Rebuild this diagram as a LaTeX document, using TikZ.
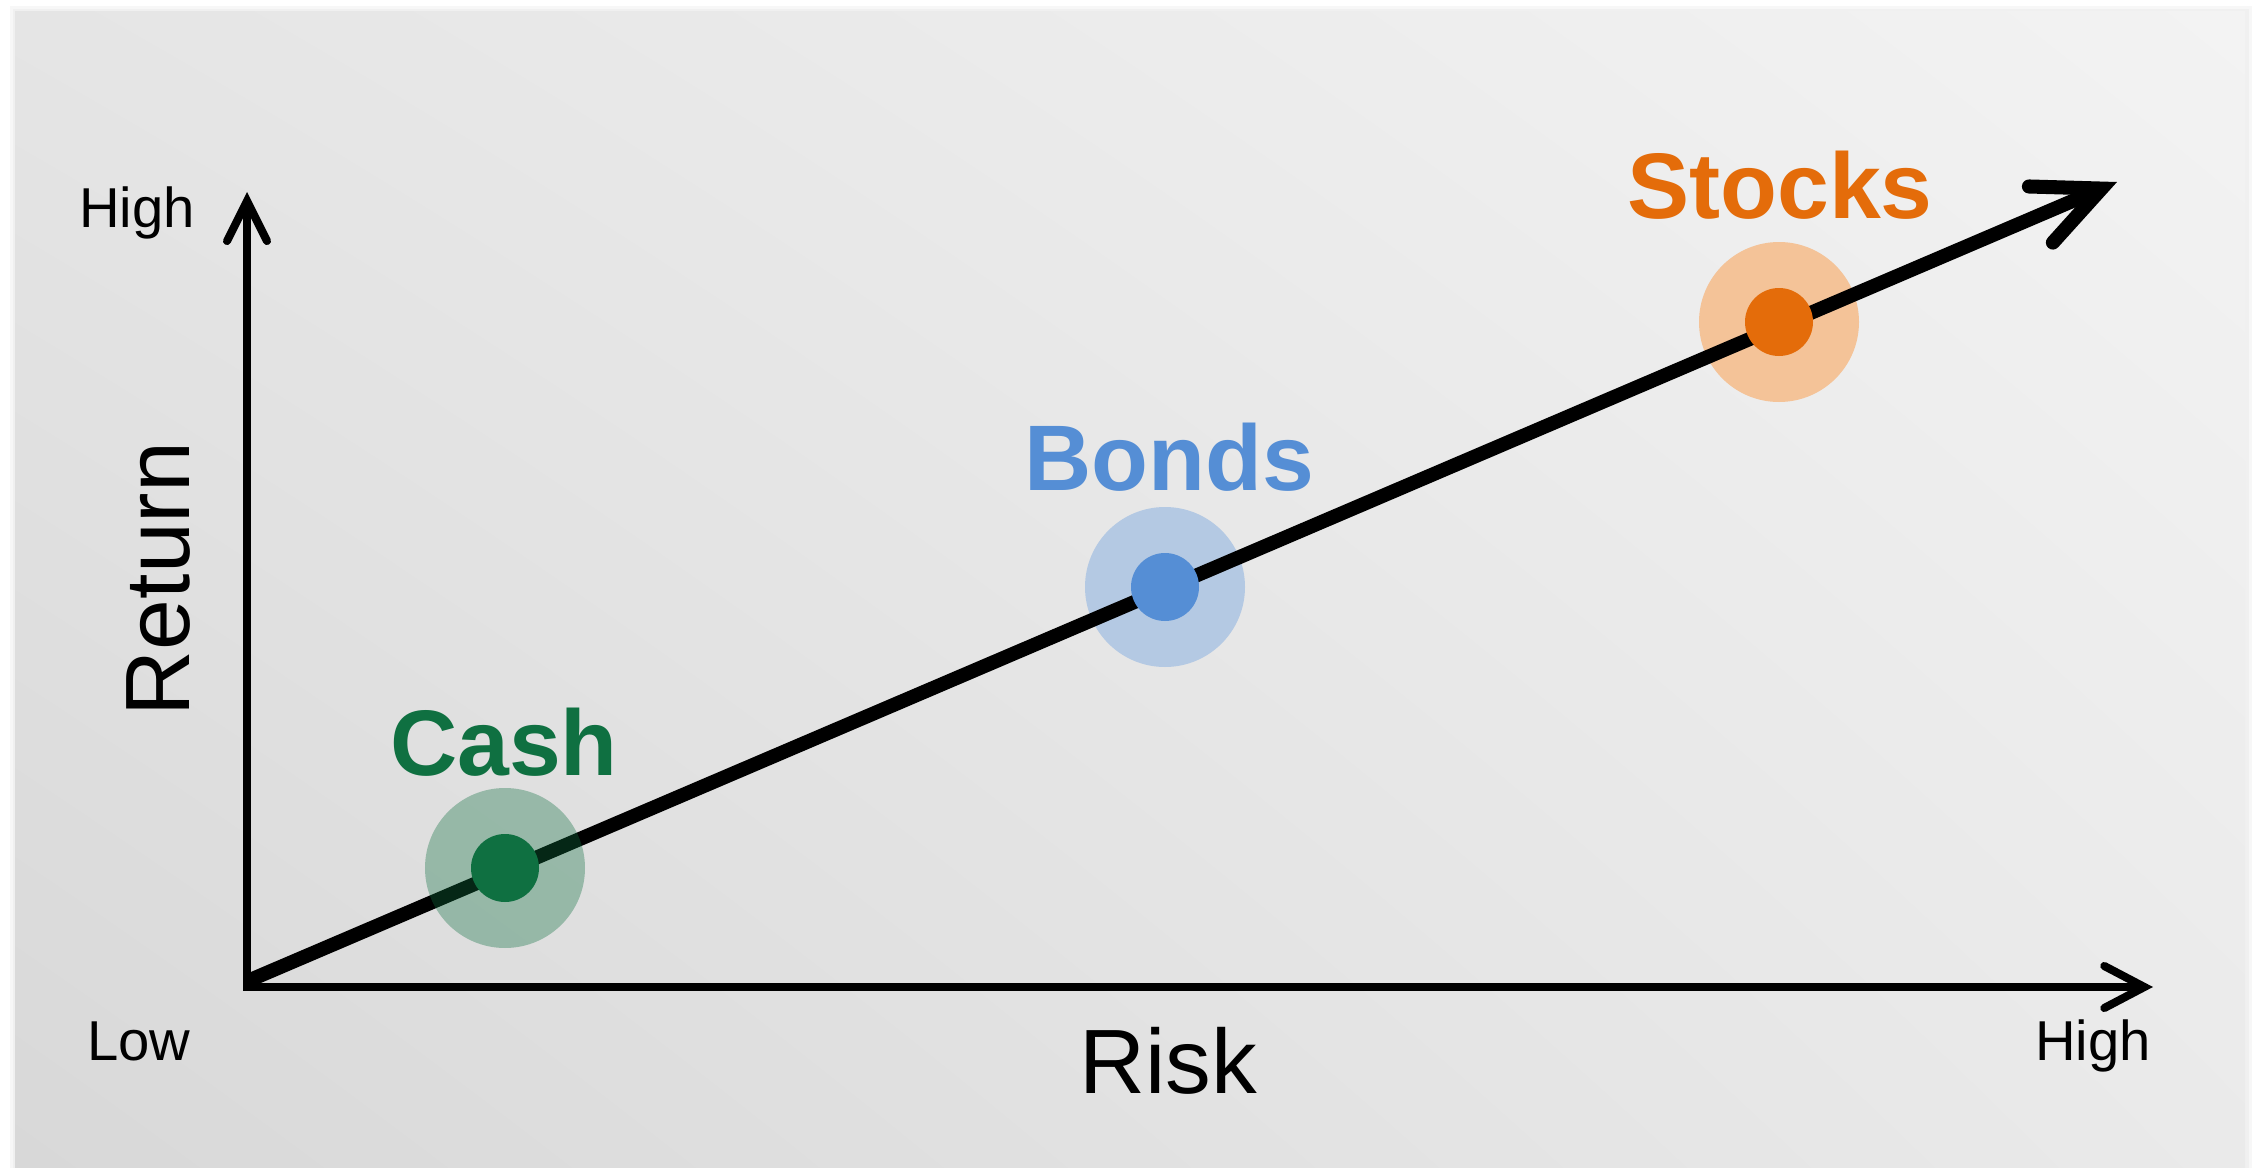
\documentclass[tikz,border=0pt]{standalone}
\usepackage{fontspec}
\setmainfont{Liberation Sans}
\usetikzlibrary{arrows.meta, shadings}

\definecolor{cashgreen}{HTML}{0F7041}
\definecolor{bondblue}{HTML}{558ED5}
\definecolor{stockorange}{HTML}{E46C0A}
\definecolor{bondhalo}{HTML}{B4C9E3}
\definecolor{stockhalo}{HTML}{F4C398}
\definecolor{bgdark}{HTML}{D8D8D8}
\definecolor{bglight}{HTML}{F3F3F3}
\definecolor{bgleft}{HTML}{E5E5E5}
\definecolor{bgright}{HTML}{EAEAEA}

\tikzset{axisarrow/.style = {line width=2.3pt,
            {Straight Barb[length=4mm, width=4mm, line cap=round]}-{Straight Barb[length=4mm, width=4.2mm, line cap=round]}},
         trendarrow/.style = {line width=4pt,
            -{Straight Barb[length=6.6mm, width=6.1mm, line cap=round]}},
         halo/.style = {circle, minimum size=16mm, inner sep=0pt},
         dot/.style = {circle, minimum size=6.8mm, inner sep=0pt},
         ticklabel/.style = {font=\fontsize{16}{19}\selectfont, anchor=base},
         axislabel/.style = {font=\fontsize{26}{31}\selectfont, anchor=base},
         assetlabel/.style = {font=\fontsize{26.5}{32}\selectfont\bfseries, anchor=base}}

\begin{document}
\begin{tikzpicture}[x=0.1mm, y=-0.1mm]
    \useasboundingbox (0,0) rectangle (2257,1168);

    % panel with its soft edge
    \fill[black!3] (10,6) rectangle (2252,1168);
    \fill[black!6] (13,9) rectangle (2249,1168);
    \shade[lower left=bgdark, upper right=bglight,
           upper left=bgleft, lower right=bgright] (15,11) rectangle (2245,1168);

    % axes
    \coordinate (origin) at (247,987);
    \coordinate (ytip) at (247,192);
    \coordinate (xtip) at (2153,987);
    \draw[axisarrow] (ytip) |- (xtip);

    \node[ticklabel] (yhigh) at (137,227) {High};
    \node[ticklabel] (xlow) at (139,1060) {Low};
    \node[ticklabel] (xhigh) at (2093,1060) {High};
    \node[axislabel] (risk) at (1168,1093) {Risk};
    \node[axislabel, rotate=90] (return) at (189,579) {Return};

    % halos that sit under the trend line
    \foreach \Name/\x/\y/\Col in {%
        bonds/1165/587/bondhalo,
        stocks/1779/322/stockhalo%
        }
        \node[halo, fill=\Col] (halo-\Name) at (\x,\y) {};

    \coordinate (start) at (250,980);
    \coordinate (end) at (2117,182);
    \draw[trendarrow] (start) -- (end);

    % the cash halo is see-through, over the line
    \node[halo, fill=cashgreen, fill opacity=.35] (halo-cash) at (505,868) {};

    \foreach \Name/\x/\y/\Col in {%
        cash/505/868/cashgreen,
        bonds/1165/587/bondblue,
        stocks/1779/322/stockorange%
        }
        \node[dot, fill=\Col] (dot-\Name) at (\x,\y) {};

    \node[assetlabel, text=cashgreen] (cash) at (504,775) {Cash};
    \node[assetlabel, text=bondblue] (bonds) at (1169,490) {Bonds};
    \node[assetlabel, text=stockorange] (stocks) at (1780,218) {Stocks};
\end{tikzpicture}
\end{document}
